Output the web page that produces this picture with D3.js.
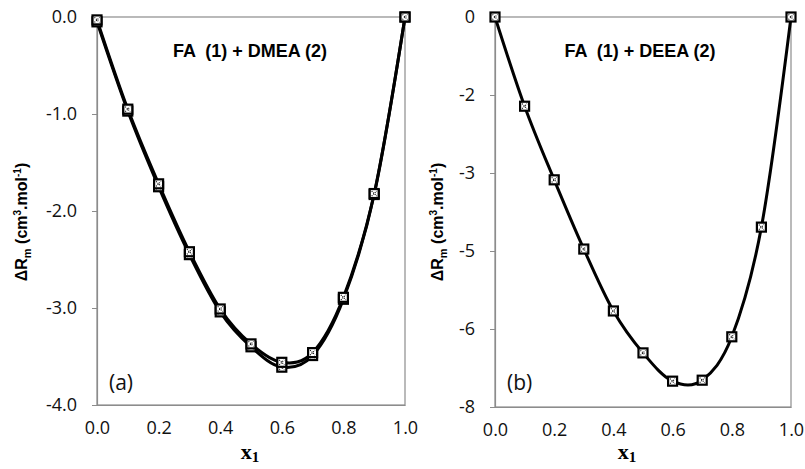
<!DOCTYPE html>
<html><head><meta charset="utf-8">
<script src="https://cdn.jsdelivr.net/npm/d3@7"></script>
<style>body{margin:0;background:#fff}svg{display:block}</style>
</head><body>
<svg id="c" width="805" height="469"></svg>
<script>
// ---- data ----
const x1 = [0.0,0.1,0.2,0.3,0.4,0.5,0.6,0.7,0.8,0.9,1.0];
const dmeaExp = [-0.05,-0.97,-1.75,-2.45,-3.04,-3.40,-3.61,-3.49,-2.91,-1.83,0.0];
const dmeaCalc = [-0.03,-0.95,-1.72,-2.42,-3.01,-3.37,-3.56,-3.46,-2.89,-1.82,0.0];
const deea = [0.0,-1.83,-3.34,-4.76,-6.03,-6.89,-7.47,-7.45,-6.56,-4.31,0.0];
const xTicks = [0,0.2,0.4,0.6,0.8,1.0];
const leftYTicks = [0,-1,-2,-3,-4];
const rightYTicks = [0,-1.6,-3.2,-4.8,-6.4,-8.0];

const svg = d3.select("#c");
const axisCol = "#8c8c8c";
const tickFont = "'Open Sans', sans-serif";
const hy = f => v => f(v).replace("\u2212","-");

function panel(cfg){
  const g = svg.append("g");
  const x = d3.scaleLinear().domain([0,1]).range([cfg.x0,cfg.x1]);
  const y = d3.scaleLinear().domain(cfg.ydom).range([cfg.y1,cfg.y0]);
  g.append("rect").attr("x",cfg.x0).attr("y",cfg.y0).attr("width",cfg.x1-cfg.x0).attr("height",cfg.y1-cfg.y0)
    .attr("fill","none").attr("stroke",axisCol).attr("stroke-width",1.2);
  const ya = g.append("g").attr("transform",`translate(${cfg.x0},0)`)
    .call(d3.axisLeft(y).tickValues(cfg.yticks).tickFormat(hy(cfg.yfmt)).tickSize(5).tickPadding(15));
  ya.select(".domain").attr("stroke",axisCol).attr("stroke-width",1.2);
  ya.selectAll(".tick line").attr("stroke",axisCol);
  ya.selectAll("text").attr("font-family",tickFont).attr("font-size",18).attr("fill","#111");
  const xa = g.append("g").attr("transform",`translate(0,${cfg.y1})`)
    .call(d3.axisBottom(x).tickValues(xTicks).tickFormat(d3.format(".1f")).tickSize(0).tickPadding(16));
  xa.select(".domain").attr("stroke",axisCol).attr("stroke-width",1.2);
  xa.selectAll("text").attr("font-family",tickFont).attr("font-size",18).attr("fill","#111");
  const line = d3.line().x((d,i)=>x(x1[i])).y(d=>y(d)).curve(d3.curveCatmullRom.alpha(0));
  cfg.series.forEach(s=>{
    g.append("path").attr("d",line(s.v)).attr("fill","none").attr("stroke","#000").attr("stroke-width",s.w);
  });
  cfg.series.forEach(s=>{
    const m = g.selectAll(null).data(s.v).enter().append("g")
      .attr("transform",(d,i)=>`translate(${x(x1[i])},${y(d)})`);
    m.append("rect").attr("x",-4.5).attr("y",-4.5).attr("width",9).attr("height",9)
      .attr("fill","#fff").attr("stroke","#000").attr("stroke-width",2.2);
    m.append("path").attr("d","M-2.5,-2.5L2.5,2.5M-2.5,2.5L2.5,-2.5").attr("stroke","#000")
      .attr("stroke-width",1.1).attr("stroke-dasharray","1,1.2");
  });
  g.append("text").attr("x",cfg.tx).attr("y",57).attr("text-anchor","middle")
    .attr("font-family","'Liberation Sans', Arial, sans-serif").attr("font-weight","bold").attr("font-size",18)
    .attr("xml:space","preserve").text(cfg.title);
  g.append("text").attr("x",cfg.x0+12).attr("y",390).attr("font-family",tickFont).attr("font-size",21)
    .attr("fill","#111").text(cfg.label);
  const yl = g.append("text").attr("transform",`translate(${cfg.ylx},${cfg.yly}) rotate(-90)`)
    .attr("text-anchor","middle").attr("font-family","'Liberation Sans', Arial, sans-serif")
    .attr("font-weight","bold").attr("font-size",16);
  yl.append("tspan").text("ΔR");
  yl.append("tspan").attr("font-size",11).attr("dy",4).text("m");
  yl.append("tspan").attr("dy",-4).text(" (cm");
  yl.append("tspan").attr("font-size",10).attr("dy",-6).text("3");
  yl.append("tspan").attr("dy",6).text(".mol");
  yl.append("tspan").attr("font-size",10).attr("dy",-6).text("-1");
  yl.append("tspan").attr("dy",6).text(")");
  const xl = g.append("text").attr("x",cfg.xlx).attr("y",459).attr("text-anchor","middle")
    .attr("font-family","'Liberation Serif', 'Times New Roman', serif").attr("font-weight","bold").attr("font-size",22);
  xl.append("tspan").text("x");
  xl.append("tspan").attr("font-size",15).attr("dy",3).text("1");
}

panel({x0:97,x1:405,y0:17,y1:405,ydom:[-4,0],yticks:leftYTicks,yfmt:d3.format(".1f"),
  series:[{v:dmeaExp,w:3},{v:dmeaCalc,w:3}],title:"FA  (1) + DMEA (2)",tx:250,label:"(a)",
  ylx:27,yly:222,xlx:250});
panel({x0:495,x1:791,y0:17,y1:407,ydom:[-8,0],yticks:rightYTicks,yfmt:d3.format(".0f"),
  series:[{v:deea,w:3}],title:"FA  (1) + DEEA (2)",tx:640,label:"(b)",
  ylx:443,yly:222,xlx:627});
</script>
</body></html>
